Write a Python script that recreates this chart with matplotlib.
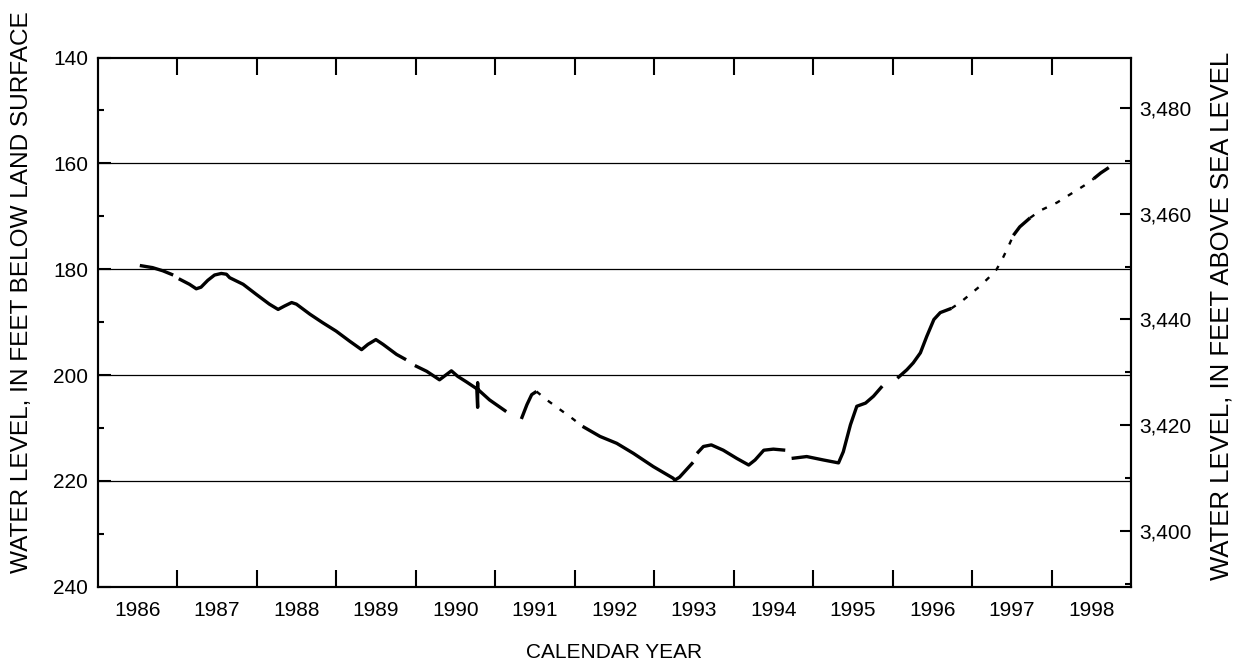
import matplotlib
matplotlib.use('Agg')
import matplotlib.pyplot as plt
import numpy as np
from matplotlib.ticker import FuncFormatter

plt.rcParams['font.family'] = ['Liberation Sans', 'DejaVu Sans']

# 1. data
nan = np.nan
# measured record (solid), nan = break in record
meas_year = [1986.53, 1986.69, 1986.82, 1986.95, nan,
             1987.02, 1987.155, 1987.24, 1987.30, 1987.385, 1987.47, 1987.555, 1987.62, 1987.66,
             1987.83, 1987.995, 1988.16, 1988.27, 1988.35, 1988.44, 1988.50, 1988.67, 1988.83,
             1989.00, 1989.17, 1989.32, 1989.40, 1989.50, 1989.59, 1989.76, 1989.88, nan,
             1989.99, 1990.14, 1990.30, 1990.45, 1990.53, 1990.64, 1990.77, 1990.78, 1990.78,
             1990.78, 1990.79, 1990.93, 1991.14, nan,
             1991.33, 1991.40, 1991.46, 1991.52, nan,
             1992.10, 1992.32, 1992.53, 1992.74, 1992.99, 1993.24, 1993.26, 1993.32, 1993.49, nan,
             1993.54, 1993.62, 1993.72, 1993.87, 1994.04, 1994.19, 1994.27, 1994.38, 1994.50,
             1994.65, nan,
             1994.73, 1994.92, 1995.13, 1995.32, 1995.38, 1995.47, 1995.55, 1995.66, 1995.76,
             1995.87, nan,
             1996.06, 1996.18, 1996.26, 1996.35, 1996.43, 1996.52, 1996.60, 1996.74, nan,
             1997.52, 1997.60, 1997.73, nan,
             1998.53, 1998.62, 1998.72]
meas_depth = [179.3, 179.7, 180.3, 181.1, nan,
              181.8, 182.85, 183.7, 183.4, 182.1, 181.1, 180.8, 180.95, 181.6,
              182.85, 184.75, 186.6, 187.6, 186.96, 186.3, 186.6, 188.5, 190.1,
              191.7, 193.6, 195.2, 194.2, 193.3, 194.2, 196.1, 197.1, nan,
              198.2, 199.3, 200.9, 199.2, 200.25, 201.3, 202.6, 206.1, 201.5,
              202.8, 202.8, 204.7, 206.9, nan,
              208.3, 205.6, 203.7, 203.1, nan,
              209.7, 211.6, 212.9, 214.8, 217.3, 219.5, 219.85, 219.3, 216.5, nan,
              214.8, 213.5, 213.2, 214.2, 215.75, 217.0, 216.05, 214.2, 214.0,
              214.2, nan,
              215.75, 215.4, 216.05, 216.6, 214.5, 209.4, 205.9, 205.3, 204.0,
              202.1, nan,
              200.6, 199.0, 197.7, 195.8, 192.7, 189.5, 188.2, 187.4, nan,
              173.6, 172.0, 170.3, nan,
              162.9, 161.8, 160.8]

# estimated record (dashed)
est_year = [1991.52, 1991.65, 1991.98, 1992.10, nan,
            1996.74, 1996.85, 1996.98, 1997.10, 1997.21, 1997.31, 1997.39, 1997.46, 1997.52, nan,
            1997.73, 1997.86, 1998.07, 1998.24, 1998.41, 1998.53]
est_depth = [203.1, 204.7, 208.3, 209.7, nan,
             187.4, 186.3, 184.7, 183.2, 181.6, 180.0, 177.8, 175.6, 173.6, nan,
             170.3, 168.9, 167.4, 165.8, 164.2, 162.9]

years = list(range(1986, 1999))
LAND_SURFACE = 3629.5  # feet above sea level

# 2. figure
fig = plt.figure(figsize=(12.38, 6.62), dpi=100)
ax = fig.add_axes([0.0789, 0.1137, 0.9136 - 0.0789, 0.9131 - 0.1137])

ax.plot(meas_year, meas_depth, color='black', lw=2.4, solid_capstyle='butt')
ax.plot(est_year, est_depth, color='black', lw=1.7, dashes=(2.2, 4))

ax.set_xlim(1986, 1999)
ax.set_ylim(240, 140)

# horizontal grid lines
for d in [160, 180, 200, 220]:
    ax.axhline(d, color='black', lw=0.9, zorder=0)

# x ticks: marks at year starts, labels centered in each year
ax.set_xticks(years[1:])
ax.set_xticklabels([])
ax.set_xticks([y + 0.5 for y in years], minor=True)
ax.set_xticklabels([str(y) for y in years], minor=True)
ax.tick_params(axis='x', which='major', direction='in', length=12.5, width=1.5, top=True, bottom=True)
ax.tick_params(axis='x', which='minor', length=0, pad=10, labelsize=15)

ax.set_yticks([140, 160, 180, 200, 220, 240])
ax.set_yticks([150, 170, 190, 210, 230], minor=True)
ax.tick_params(axis='y', which='major', direction='in', length=9, width=1.5, pad=7, labelsize=15)
ax.tick_params(axis='y', which='minor', direction='in', length=4.5, width=1.5)

for s in ax.spines.values():
    s.set_linewidth(1.5)

# right axis: altitude
ax2 = ax.twinx()
ax2.set_ylim(LAND_SURFACE - 240, LAND_SURFACE - 140)
ax2.set_yticks([3400, 3420, 3440, 3460, 3480])
ax2.set_yticks([3390, 3410, 3430, 3450, 3470], minor=True)
ax2.yaxis.set_major_formatter(FuncFormatter(lambda v, p: f'{int(v):,}'))
ax2.tick_params(axis='y', which='major', direction='in', length=8, width=1.5, pad=6, labelsize=15)
ax2.tick_params(axis='y', which='minor', direction='in', length=4, width=1.5)
for s in ax2.spines.values():
    s.set_linewidth(1.5)

# axis labels
fig.text(22 / 1238, 1 - 292 / 662, 'WATER LEVEL, IN FEET BELOW LAND SURFACE',
         rotation=90, ha='center', va='center', fontsize=17.6)
fig.text(1222 / 1238, 1 - 316 / 662, 'WATER LEVEL, IN FEET ABOVE SEA LEVEL',
         rotation=90, ha='center', va='center', fontsize=18.5)
fig.text(0.5 * (0.0789 + 0.9136), 1 - 652 / 662, 'CALENDAR YEAR',
         ha='center', va='center', fontsize=15)

plt.savefig('out.png', dpi=100)
